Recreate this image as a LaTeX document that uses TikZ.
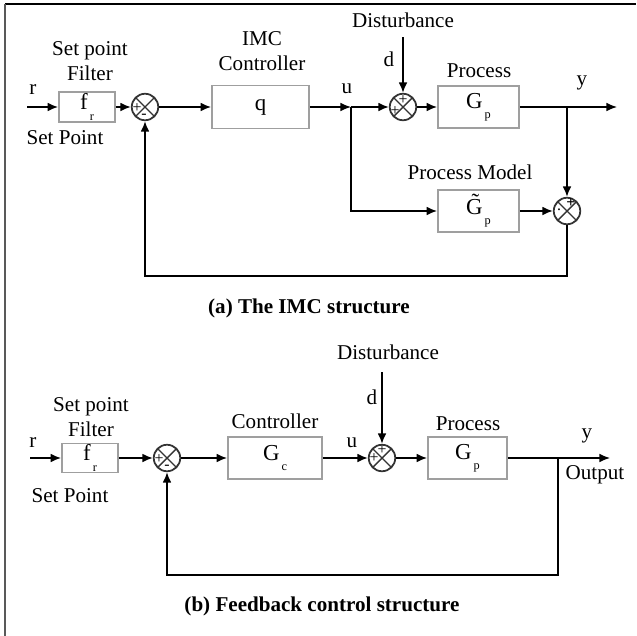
\documentclass[tikz,border=0pt]{standalone}
\usepackage{fontspec}
\setmainfont{Liberation Serif}
\usepackage{tikz}
\usetikzlibrary{arrows.meta,positioning}
\newcommand{\blksub}[2]{#1\raisebox{-1ex}{\scriptsize\,#2}}

\begin{document}
\begin{tikzpicture}[x=0.02cm, y=-0.02cm,
  block/.style={rectangle, draw=gray!75, line width=1pt, minimum height=0.84cm,
    inner sep=0pt, font=\fontsize{13}{14}\selectfont},
  sumnode/.style={circle, draw=black!80, line width=1pt, minimum size=0.53cm, inner sep=0pt,
    path picture={\draw[black!80, line width=0.8pt]
      (path picture bounding box.north west) -- (path picture bounding box.south east)
      (path picture bounding box.north east) -- (path picture bounding box.south west);}},
  sign/.style={font=\fontsize{9}{9}\selectfont, inner sep=0pt},
  lbl/.style={font=\fontsize{12}{14}\selectfont, align=center, inner sep=0pt},
  capt/.style={font=\fontsize{12}{14}\selectfont\bfseries, inner sep=0pt},
  arr/.style={-{Latex[length=6pt,width=5pt]}, line width=0.9pt},
  wire/.style={line width=0.9pt},
]
  \useasboundingbox (0,0) rectangle (636,636);
  \draw[line width=1.4pt] (5,4) -- (636,4);
  \draw[line width=1.4pt, gray!70!black] (5,4) -- (5,636);

  % (a) IMC structure
  \coordinate (ra) at (27,107);
  \node[block, minimum width=1.12cm, minimum height=0.6cm] (filta) at (87,107) {\blksub{f}{r}};
  \node[sumnode] (suma) at (145,107) {};
  \node[block, minimum width=1.94cm, minimum height=0.86cm] (imc) at (260.5,107) {q};
  \coordinate (ua) at (351,107);
  \node[sumnode] (disa) at (403,107) {};
  \coordinate (da) at (403,37);
  \node[block, minimum width=1.62cm] (gpa) at (478.5,107) {\blksub{G}{p}};
  \coordinate (ya) at (567,107);
  \coordinate (outa) at (617,107);
  \node[block, minimum width=1.62cm] (model) at (478.5,211) {\blksub{\~G}{p}};
  \node[sumnode] (diffa) at (567,211) {};
  \coordinate (fba) at (567,276);

  \draw[arr] (ra) -- (filta);
  \draw[arr] (filta) -- (suma);
  \draw[arr] (suma) -- (imc);
  \draw[arr] (imc) -- (ua);
  \draw[arr] (ua) -- (disa);
  \draw[arr] (da) -- (disa);
  \draw[arr] (disa) -- (gpa);
  \draw[wire] (gpa) -- (ya);
  \draw[arr] (ya) -- (outa);
  \draw[arr] (ya) -- (diffa);
  \draw[arr] (ua) |- (model);
  \draw[arr] (model) -- (diffa);
  \draw[arr] (diffa) -- (fba) -| (suma);

  \node[sign] at (137,108) {+};
  \node[sign] at (144,116) {-};
  \node[sign] at (403,100) {+};
  \node[sign] at (395,111) {+};
  \node[sign, font=\fontsize{9}{9}\selectfont\bfseries] at (571,203) {+};
  \node[sign] at (559,210) {.};

  \node[lbl] (ral) at (33,90) {r};
  \node[lbl] (filtal) at (90,61) {Set point\\Filter};
  \node[lbl] (spa) at (65,138) {Set Point};
  \node[lbl] (imcl) at (262,51) {IMC\\Controller};
  \node[lbl] (ual) at (347,89) {u};
  \node[lbl] (disal) at (403,20) {Disturbance};
  \node[lbl] (dal) at (389,59) {d};
  \node[lbl] (gpal) at (479,71) {Process};
  \node[lbl] (yal) at (582,83) {y};
  \node[lbl] (modell) at (470,172) {Process Model};
  \node[capt] (capa) at (309,308) {(a) The IMC structure};

  % (b) feedback structure
  \coordinate (rb) at (30,458);
  \node[block, minimum width=1.12cm, minimum height=0.58cm] (filtb) at (90,458) {\blksub{f}{r}};
  \node[sumnode] (sumb) at (167,458) {};
  \node[block, minimum width=1.88cm] (ctrl) at (275,458) {\blksub{G}{c}};
  \node[sumnode] (disb) at (382,458) {};
  \coordinate (db) at (382,372);
  \node[block, minimum width=1.58cm] (gpb) at (467.5,458) {\blksub{G}{p}};
  \coordinate (yb) at (558,458);
  \coordinate (outb) at (610,458);
  \coordinate (fbb) at (558,575);

  \draw[arr] (rb) -- (filtb);
  \draw[arr] (filtb) -- (sumb);
  \draw[arr] (sumb) -- (ctrl);
  \draw[arr] (ctrl) -- (disb);
  \draw[arr] (db) -- (disb);
  \draw[arr] (disb) -- (gpb);
  \draw[wire] (gpb) -- (yb);
  \draw[arr] (yb) -- (outb);
  \draw[arr] (yb) -- (fbb) -| (sumb);

  \node[sign] at (159,459) {+};
  \node[sign] at (167,467) {-};
  \node[sign] at (382,450) {+};
  \node[sign] at (374,458) {+};

  \node[lbl] (rbl) at (33,443) {r};
  \node[lbl] (filtbl) at (91,417) {Set point\\Filter};
  \node[lbl] (spb) at (70,496) {Set Point};
  \node[lbl] (ctrll) at (275,421) {Controller};
  \node[lbl] (ubl) at (352,443) {u};
  \node[lbl] (disbl) at (388,352) {Disturbance};
  \node[lbl] (dbl) at (372,397) {d};
  \node[lbl] (gpbl) at (468,424) {Process};
  \node[lbl] (ybl) at (587,436) {y};
  \node[lbl] (outbl) at (595,475) {Output};
  \node[capt] (capb) at (322,606) {(b) Feedback control structure};
\end{tikzpicture}
\end{document}
